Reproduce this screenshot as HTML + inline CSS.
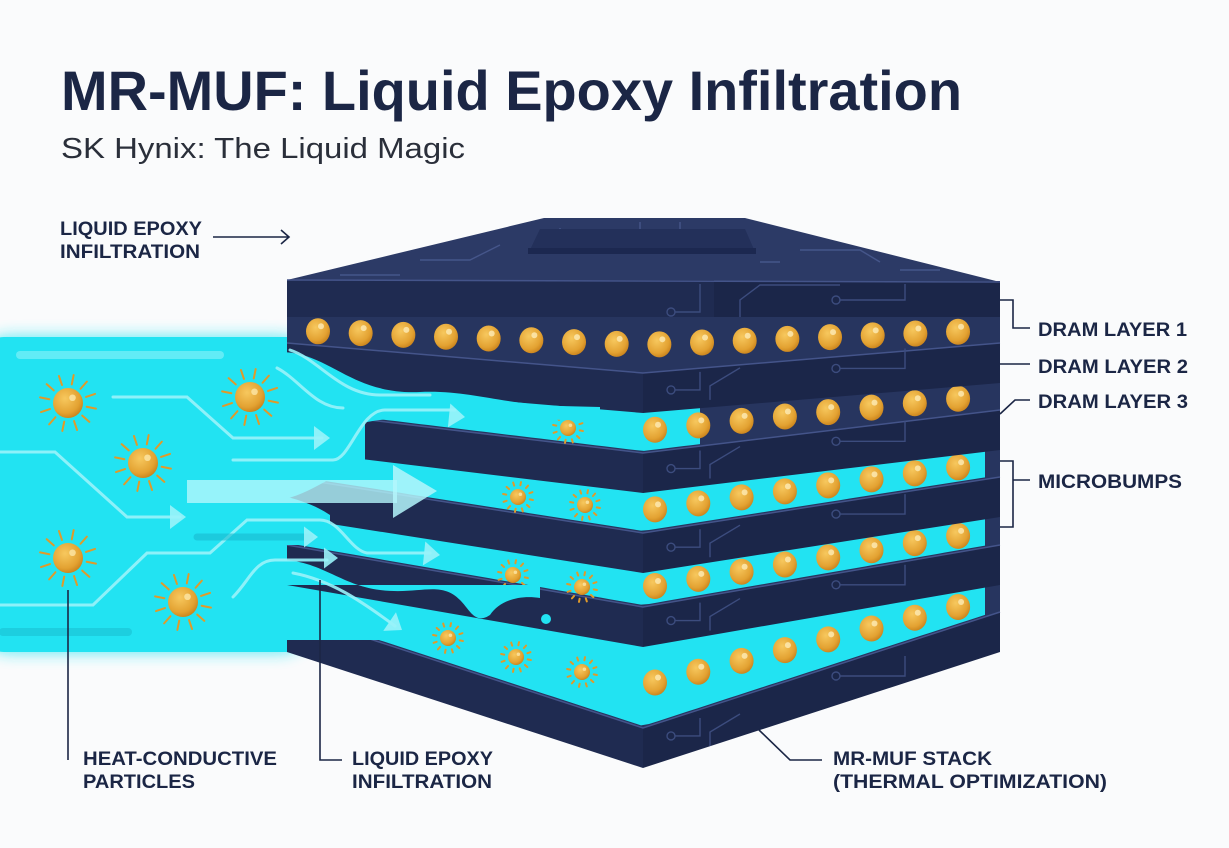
<!DOCTYPE html>
<html><head><meta charset="utf-8"><style>
html,body{margin:0;padding:0;background:#fafbfc;}
svg{display:block;}
text{font-family:"Liberation Sans",sans-serif;}
</style></head><body>
<svg id="s" xmlns="http://www.w3.org/2000/svg" width="1229" height="848" viewBox="0 0 1229 848">
<defs>
<radialGradient id="gb" cx="0.4" cy="0.35" r="0.7"><stop offset="0" stop-color="#f7c85e"/><stop offset="0.7" stop-color="#e3a232"/><stop offset="1" stop-color="#c7801a"/></radialGradient>
<filter id="blur" x="-20%" y="-20%" width="140%" height="140%"><feGaussianBlur stdDeviation="8"/></filter>
</defs>
<rect width="1229" height="848" fill="#fafbfc"/>
<text x="61" y="110" font-size="56" font-weight="bold" fill="#1b2645" textLength="901" lengthAdjust="spacingAndGlyphs">MR-MUF: Liquid Epoxy Infiltration</text>
<text x="61" y="158" font-size="29" fill="#2a2f3a" textLength="404" lengthAdjust="spacingAndGlyphs">SK Hynix: The Liquid Magic</text>
<g font-weight="bold" fill="#1b2645" font-size="19">
<text x="60" y="235" textLength="142" lengthAdjust="spacingAndGlyphs">LIQUID EPOXY</text>
<text x="60" y="258" textLength="140" lengthAdjust="spacingAndGlyphs">INFILTRATION</text>
<text x="1038" y="336" textLength="149" lengthAdjust="spacingAndGlyphs">DRAM LAYER 1</text>
<text x="1038" y="373" textLength="150" lengthAdjust="spacingAndGlyphs">DRAM LAYER 2</text>
<text x="1038" y="408" textLength="150" lengthAdjust="spacingAndGlyphs">DRAM LAYER 3</text>
<text x="1038" y="488" textLength="144" lengthAdjust="spacingAndGlyphs">MICROBUMPS</text>
<text x="83" y="765" textLength="194" lengthAdjust="spacingAndGlyphs">HEAT-CONDUCTIVE</text>
<text x="83" y="788" textLength="112" lengthAdjust="spacingAndGlyphs">PARTICLES</text>
<text x="352" y="765" textLength="141" lengthAdjust="spacingAndGlyphs">LIQUID EPOXY</text>
<text x="352" y="788" textLength="140" lengthAdjust="spacingAndGlyphs">INFILTRATION</text>
<text x="833" y="765" textLength="159" lengthAdjust="spacingAndGlyphs">MR-MUF STACK</text>
<text x="833" y="788" textLength="274" lengthAdjust="spacingAndGlyphs">(THERMAL OPTIMIZATION)</text>
</g>
<g id="artg"></g>
<g stroke="#1b2645" stroke-width="1.6" fill="none">
<path d="M213,237 H289 M281,230 L289,237 L281,244"/>
<path d="M1000,300 H1013 V328 H1030"/>
<path d="M1000,364 H1030"/>
<path d="M1000,414 L1015,400 H1030"/>
<path d="M1000,461 H1013 V527 H1000 M1013,480 H1030"/>
<path d="M68,590 V760"/>
<path d="M320,580 V760 H342"/>
<path d="M759,730 L790,760 H822"/>
</g>
</svg>
<script>
(function(){
var NS="http://www.w3.org/2000/svg";
var artG=document.getElementById('artg');
function el(t,a,p){var e=document.createElementNS(NS,t);for(var k in a)e.setAttribute(k,a[k]);(p||artG).appendChild(e);return e;}
var LY=[{T:343,d:30},{T:410,d:43},{T:477,d:56},{T:545,d:62},{T:612,d:116}];
var H=40,CX=643,X0=287,X1=1000;
function topY(l,x){return x<=CX? l.T+l.d*(x-X0)/(CX-X0) : l.T+l.d*(X1-x)/(X1-CX);}
function botY(l,x){return topY(l,x)+H;}
var CY='#22e3f2';
function sun(x,y,r){
  var g=el('g',{});
  for(var i=0;i<12;i++){var a=i*Math.PI/6+0.2;el('line',{x1:x+Math.cos(a)*(r+4),y1:y+Math.sin(a)*(r+4),x2:x+Math.cos(a)*(r*1.9),y2:y+Math.sin(a)*(r*1.9),stroke:'#e09a2a','stroke-width':2,'stroke-linecap':'round'},g);}
  el('circle',{cx:x,cy:y,r:r,fill:'url(#gb)'},g);
  el('circle',{cx:x+r*0.3,cy:y-r*0.35,r:r*0.22,fill:'#fde7a8',opacity:0.8},g);
}
function bump(x,y){el('ellipse',{cx:x,cy:y,rx:12,ry:13,fill:'url(#gb)'});el('circle',{cx:x+3,cy:y-5,r:3,fill:'#fde9b0',opacity:0.85});}
el('rect',{x:-20,y:337,width:330,height:315,rx:30,fill:CY,filter:'url(#blur)',opacity:0.8});
el('rect',{x:-20,y:337,width:330,height:315,rx:24,fill:CY});
function slab(l){
  el('polygon',{points:X0+','+l.T+' '+CX+','+(l.T+l.d)+' '+X1+','+l.T+' '+X1+','+(l.T-45)+' '+X0+','+(l.T-45),fill:'#27355f'});
  el('polygon',{points:X0+','+l.T+' '+CX+','+(l.T+l.d)+' '+CX+','+(l.T+l.d+H)+' '+X0+','+(l.T+H),fill:'#1f2b51'});
  el('polygon',{points:CX+','+(l.T+l.d)+' '+X1+','+l.T+' '+X1+','+(l.T+H)+' '+CX+','+(l.T+l.d+H),fill:'#1b2649'});
  el('polyline',{points:X0+','+l.T+' '+CX+','+(l.T+l.d)+' '+X1+','+l.T,fill:'none',stroke:'#44548a','stroke-width':1.5});
  var y1=topY(l,680)+20,y2=topY(l,840)+12;
  el('path',{d:'M675,'+y1+' H700 V'+(y1-18)+' M710,'+(y1+10)+' V'+(y1-4)+' L740,'+(y1-22)+' M840,'+y2+' H905 V'+(y2-20),fill:'none',stroke:'#3c4c7e','stroke-width':1.4});
  el('circle',{cx:671,cy:y1,r:4,fill:'none',stroke:'#3c4c7e','stroke-width':1.4});
  el('circle',{cx:836,cy:y2,r:4,fill:'none',stroke:'#3c4c7e','stroke-width':1.4});
}
function gapFill(U,Lo,xEnd){
  var d='M'+X0+','+(U.T-10)+' L'+xEnd+','+(U.T-10);
  for(var x=xEnd;x>=X0;x-=8){d+=' L'+x+','+(topY(Lo,x)-2);}
  d+=' L'+X0+','+(topY(Lo,X0)-2)+' Z';
  el('path',{d:d,fill:CY});
}
var suns={1:[[568,428]],2:[[518,497],[585,505]],3:[[513,575],[582,587]],4:[[448,638],[516,657],[582,672]]};
for(var i=4;i>=0;i--){
  slab(LY[i]);
  if(i>0){
    var U=LY[i-1],Lo=LY[i];
    gapFill(U,Lo,i==1?700:985);
    for(var x=655;x<=960;x+=43.3){bump(x,(botY(U,x)+topY(Lo,x))/2-2);}
    var ss=suns[i]||[];
    for(var j=0;j<ss.length;j++){sun(ss[j][0],ss[j][1],8);}
  }
}
for(var k=0;k<16;k++){var bx=318+k*42.67;bump(bx,(317+topY(LY[0],bx))/2);}
el('polygon',{points:'287,280 544,218 745,218 1000,282 1000,300 287,300',fill:'#2c3a66'});
el('path',{d:'M560,228 V240 H600 M640,222 V236 M680,222 V234 H700 M420,260 H470 L500,245 M800,250 H860 L880,262 M760,262 H780 M340,275 H400 M900,270 H940',stroke:'#45568a','stroke-width':1.4,fill:'none'});
el('polygon',{points:'540,229 745,229 756,254 528,254',fill:'#23305a'});
el('rect',{x:528,y:248,width:228,height:6,fill:'#1c2850'});
el('rect',{x:287,y:280,width:427,height:37,fill:'#1f2b51'});
el('rect',{x:714,y:281,width:286,height:36,fill:'#1b2649'});
el('line',{x1:287,y1:280,x2:1000,y2:282,stroke:'#44548a','stroke-width':1.5});
el('path',{d:'M675,312 H700 V284 M740,317 V300 L760,285 H840 M840,300 H905 V284',fill:'none',stroke:'#3c4c7e','stroke-width':1.4});
el('circle',{cx:671,cy:312,r:4,fill:'none',stroke:'#3c4c7e','stroke-width':1.4});
el('circle',{cx:836,cy:300,r:4,fill:'none',stroke:'#3c4c7e','stroke-width':1.4});
// fluid overlays on left ends (glow + fill)
var ov=[
 'M280,352 C330,352 350,395 420,392 C470,390 500,404 560,406 L600,407 L600,420 C520,420 480,418 420,418 C380,418 360,422 340,430 L280,430 Z',
 'M280,400 L365,420 L365,462 C340,470 310,495 280,500 Z',
 'M280,495 C300,500 315,505 330,515 L330,545 L280,545 Z',
 'M280,560 C320,560 340,585 380,590 C420,595 440,580 460,600 C470,610 475,625 490,615 C500,600 520,595 540,598 L540,585 L280,585 Z',
 'M280,600 C320,600 330,610 350,625 L380,640 L280,640 Z'];
for(var o=0;o<ov.length;o++){el('path',{d:ov[o],fill:CY});}
var S='#9af3fa';
var g=el('g',{fill:'none',stroke:S,'stroke-width':3,'stroke-linecap':'round',opacity:0.9});
el('line',{x1:20,y1:355,x2:220,y2:355,'stroke-width':8,opacity:0.6},g);
el('path',{d:'M113,397 H187 L233,438 H322'},g);
el('path',{d:'M0,452 H55 L127,517 H180'},g);
el('path',{d:'M0,605 H93 L147,553 H210 L247,520 H320 C340,520 350,550 367,553 H430'},g);
el('path',{d:'M277,368 C300,380 315,408 343,408 M233,460 H333 C350,460 360,410 385,410 H455'},g);
el('path',{d:'M233,597 C250,580 255,560 275,560 H327'},g);
el('path',{d:'M293,573 C330,580 360,600 395,626'},g);
el('path',{d:'M290,350 C320,360 340,395 380,395 H430'},g);
el('path',{d:'M3,632 H128',stroke:'#17b4c8','stroke-width':8,opacity:0.5},g);
el('path',{d:'M197,537 H310',stroke:'#17b6cc','stroke-width':7,opacity:0.6},g);
var ah=el('g',{fill:S,opacity:0.9});
function head(x,y,s,ang){ang=ang||0;var c=Math.cos(ang),sn=Math.sin(ang);var p=[[0,0],[-s,-s*0.75],[-s,s*0.75]].map(function(q){return (x+q[0]*c-q[1]*sn)+','+(y+q[0]*sn+q[1]*c);}).join(' ');el('polygon',{points:p},ah);}
head(330,438,16);head(186,517,16);head(440,555,16,0.1);head(465,417,16,0.1);head(338,558,14);head(402,630,15,0.6);head(318,537,14);
el('rect',{x:187,y:480,width:210,height:23,fill:'#b4f6fb',opacity:0.8});
el('polygon',{points:'393,465 437,491 393,518',fill:'#b4f6fb',opacity:0.85});
var bigs=[[68,403],[250,397],[143,463],[68,558],[183,602]];
for(var m=0;m<bigs.length;m++){sun(bigs[m][0],bigs[m][1],15);}
el('circle',{cx:546,cy:619,r:5,fill:CY});
})();
</script>
</body></html>
